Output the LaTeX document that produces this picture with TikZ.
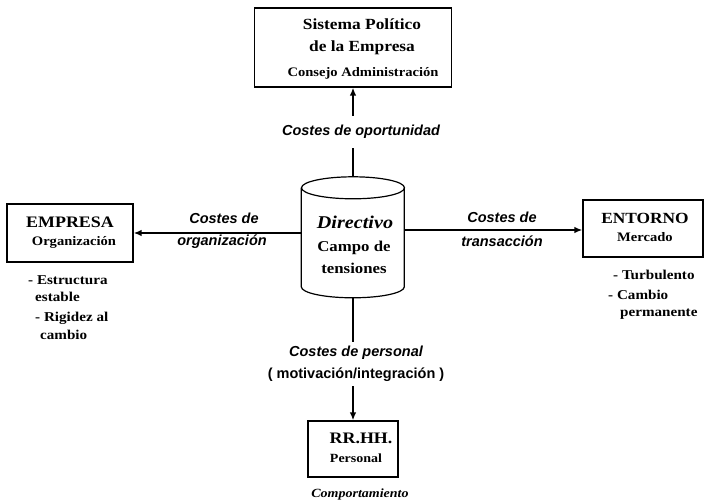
\documentclass[tikz,border=0pt]{standalone}
\usepackage{fontspec}
\setmainfont{Liberation Serif}[FakeStretch=1.12]
\setsansfont{Liberation Sans}
\usetikzlibrary{arrows.meta}

% font size in bp with its line distance
\newcommand\fsz[2]{\fontsize{#1bp}{#2bp}\selectfont}

\begin{document}
\begin{tikzpicture}[x=1bp,y=-1bp,
  box/.style={draw, line width=1.2bp, inner sep=0pt},
  rmtxt/.style={font=\rmfamily\bfseries, inner sep=0pt, anchor=base},
  note/.style={font=\rmfamily\bfseries\fsz{13.5}{15}, inner sep=0pt, anchor=base west},
  cost/.style={font=\sffamily\bfseries\itshape\fsz{14.5}{17}, inner sep=0pt, anchor=base},
  arr/.style={line width=1.7bp, -{Latex[length=8bp,width=6.5bp]}}]

\fill[white] (0,0) rectangle (706,501);
\useasboundingbox (0,0) rectangle (706,501);

% boxes
\node[box, minimum width=197bp, minimum height=79bp] (pol) at (353,47.5) {};
\node[box, minimum width=126bp, minimum height=58bp] (emp) at (70,233) {};
\node[box, minimum width=120bp, minimum height=57bp] (ent) at (643,228.5) {};
\node[box, minimum width=90bp, minimum height=56bp] (rr) at (353,449) {};

% central cylinder
\node[inner sep=0pt, minimum width=103bp, minimum height=121bp] (dir) at (353,237.5) {};
\draw[line width=1.2bp] (dir.north) ++(0,11) ellipse [x radius=51.5, y radius=11];
\draw[line width=1.2bp] (dir.north west) ++(0,11) -- ++(0,99)
  arc[start angle=180, end angle=0, x radius=51.5, y radius=11] -- ++(0,-99);

% box texts
\node[rmtxt] (pol1) at (362,30) {\fsz{15.5}{18}Sistema Político};
\node[rmtxt] (pol2) at (362,52) {\fsz{15.5}{18}de la Empresa};
\node[rmtxt] (pol3) at (363,76.5) {\fsz{13}{15}Consejo Administración};

\node[rmtxt] (emp1) at (70,227.5) {\fsz{16}{18}EMPRESA};
\node[rmtxt] (emp2) at (74,246) {\fsz{13}{15}Organización};

\node[rmtxt] (ent1) at (645,223.5) {\fsz{15.5}{18}ENTORNO};
\node[rmtxt] (ent2) at (645,242) {\fsz{13}{15}Mercado};

\node[rmtxt] (rr1) at (361,443) {\fsz{16}{18}RR.HH.};
\node[rmtxt] (rr2) at (356,462) {\fsz{12.5}{15}Personal};

\node[rmtxt, font=\rmfamily\bfseries\itshape] (dir1) at (355,228.5) {\fsz{18}{20}Directivo};
\node[rmtxt] (dir2) at (354,252) {\fsz{15}{18}Campo de};
\node[rmtxt] (dir3) at (354,274) {\fsz{15}{18}tensiones};

% notes under the side boxes
\node[note] (n1) at (28,284.5) {- Estructura};
\node[note] (n2) at (35,301) {estable};
\node[note] (n3) at (35,321.5) {- Rigidez al};
\node[note] (n4) at (40,339) {cambio};
\node[note] (n5) at (613,279.5) {- Turbulento};
\node[note] (n6) at (608,299.5) {- Cambio};
\node[note] (n7) at (620,316) {permanente};
\node[rmtxt, font=\rmfamily\bfseries\itshape] (comp) at (360,497) {\fsz{12.5}{15}Comportamiento};

% connectors
\draw[arr] (dir.north) -- (pol.south);
\draw[arr] (dir.south) -- (rr.north);
\draw[arr] (emp.east -| dir.west) -- (emp.east);
\draw[arr] ([yshift=-1.5bp]ent.west -| dir.east) -- ([yshift=-1.5bp]ent.west);

% cost labels
\node[cost, anchor=center, fill=white, inner xsep=2bp, inner ysep=9bp] (c1) at (361,132) {Costes de oportunidad};
\node[cost, anchor=center, fill=white, align=center, inner xsep=2bp, inner ysep=4bp,
      font=\sffamily\bfseries\fsz{14.5}{22}] (c4) at (356,364)
      {\itshape Costes de personal\\( motivación/integración )};
\node[cost] (c2a) at (224,224) {Costes de};
\node[cost] (c2b) at (222,246) {organización};
\node[cost] (c3a) at (502,223) {Costes de};
\node[cost] (c3b) at (502,247) {transacción};
\end{tikzpicture}
\end{document}
